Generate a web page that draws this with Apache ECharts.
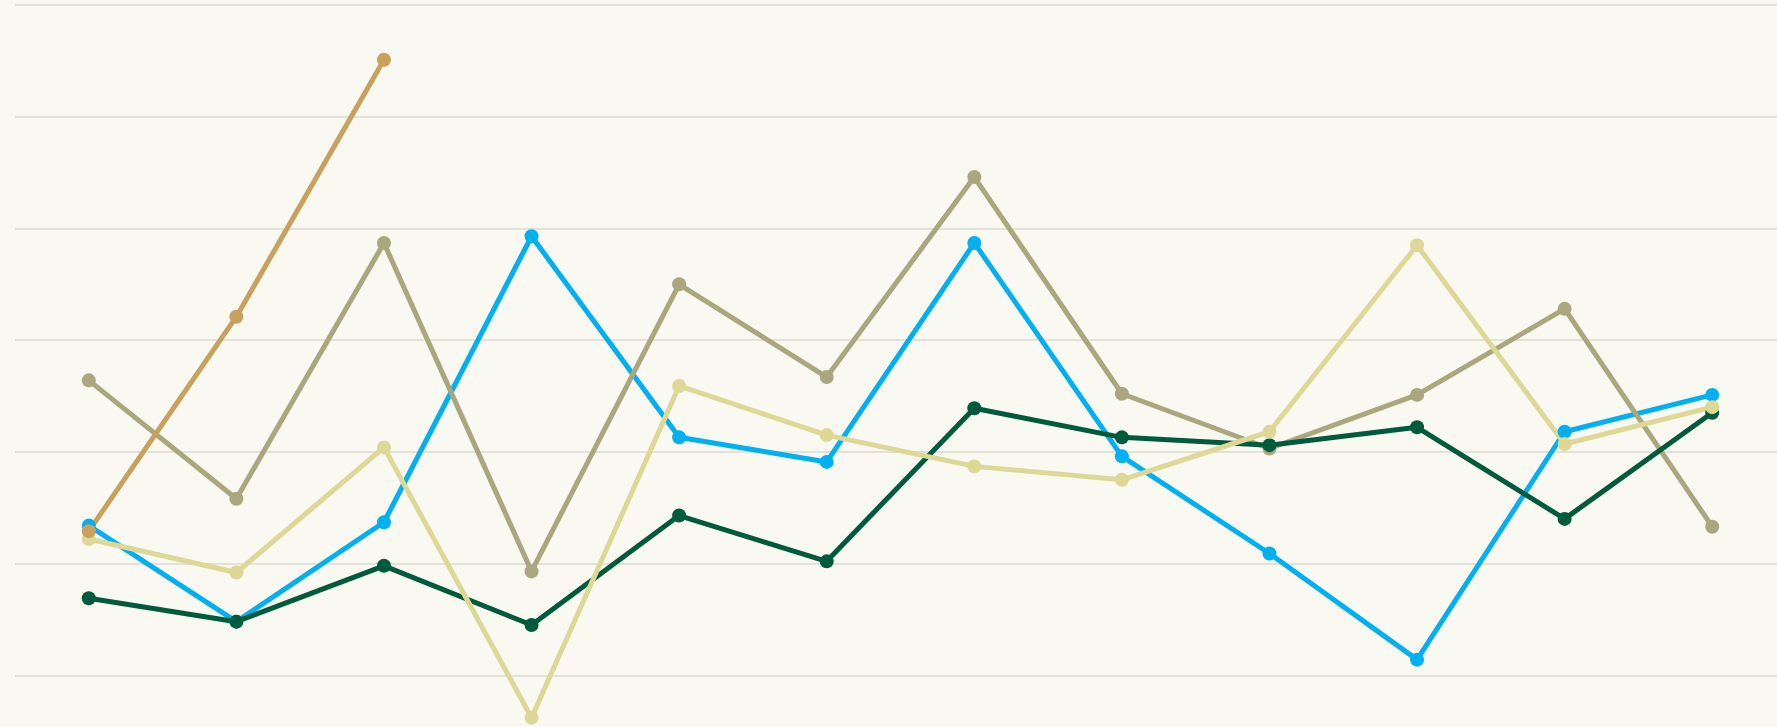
<!DOCTYPE html>
<html>
<head>
<meta charset="utf-8">
<script src="https://cdn.jsdelivr.net/npm/echarts@6/dist/echarts.min.js"></script>
<style>
  html, body { margin: 0; padding: 0; background: #f9f8f1; overflow: hidden; }
  #chart { width: 1790px; height: 800px; }
</style>
</head>
<body>
<div id="chart"></div>
<script>
const categories = ['Jan', 'Feb', 'Mar', 'Apr', 'May', 'Jun', 'Jul', 'Aug', 'Sep', 'Oct', 'Nov', 'Dec'];

// values (gridlines every 10)
const blueSeries = [23.4, 14.8, 23.7, 49.3, 31.3, 29.1, 48.7, 29.6, 20.9, 11.4, 31.8, 35.1];
const tanSeries = [36.4, 25.8, 48.7, 19.3, 45.0, 36.7, 54.6, 35.2, 30.3, 35.1, 42.8, 23.3];
const greenSeries = [16.9, 14.8, 19.8, 14.5, 24.3, 20.2, 33.9, 31.3, 30.6, 32.2, 24.0, 33.5];
const yellowSeries = [22.2, 19.2, 30.4, 6.2, 35.9, 31.5, 28.7, 27.5, 31.8, 48.5, 30.7, 34.0];
const brownSeries = [22.9, 42.1, 65.1, null, null, null, null, null, null, null, null, null];

const chart = echarts.init(document.getElementById('chart'));

function line(data, color) {
  return {
    type: 'line',
    data,
    symbol: 'circle',
    symbolSize: 14,
    showSymbol: true,
    connectNulls: false,
    lineStyle: { color, width: 5 },
    itemStyle: { color },
    emphasis: { disabled: true }
  };
}

const option = {
  backgroundColor: '#f9f8f1',
  animation: false,
  // the plot runs past the bottom and right edge of the window
  grid: { left: 15, top: 5, width: 1771, height: 782 },
  xAxis: {
    type: 'category',
    data: categories,
    boundaryGap: true,
    axisLine: { show: false },
    axisTick: { show: false },
    axisLabel: { show: false },
    splitLine: { show: false }
  },
  yAxis: {
    type: 'value',
    min: 0,
    max: 70,
    interval: 10,
    axisLine: { show: false },
    axisTick: { show: false },
    axisLabel: { show: false },
    splitLine: { lineStyle: { color: '#e3e1d8', width: 2 } }
  },
  series: [
    line(blueSeries, '#00b0f0'),
    line(tanSeries, '#aaa67e'),
    line(greenSeries, '#005a3c'),
    line(yellowSeries, '#ddd895'),
    line(brownSeries, '#c9a05c')
  ]
};

chart.setOption(option);
</script>
</body>
</html>
